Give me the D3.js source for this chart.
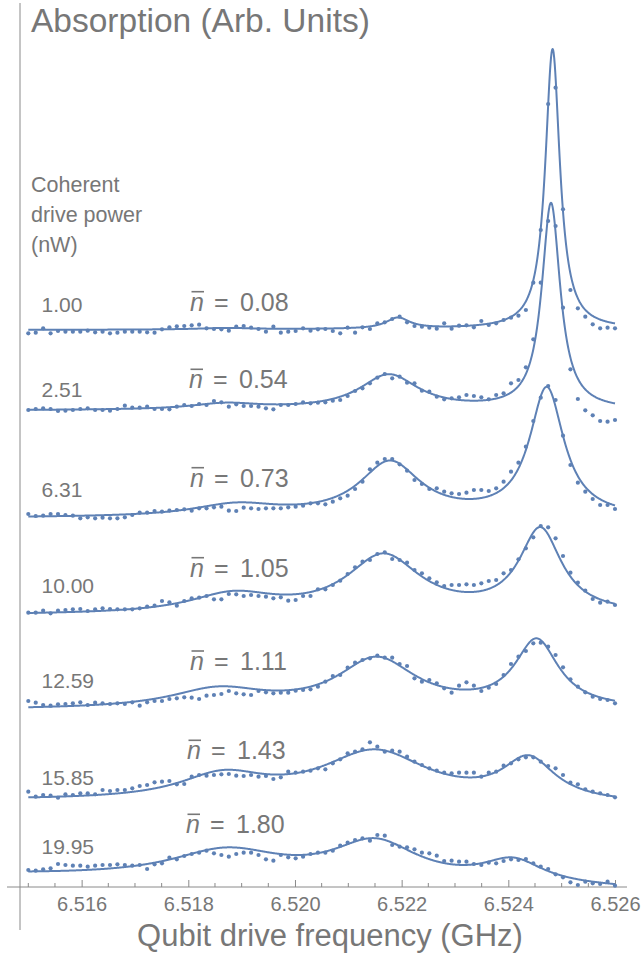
<!DOCTYPE html>
<html>
<head>
<meta charset="utf-8">
<script src="https://cdn.jsdelivr.net/npm/d3@7"></script>
<style>
  html, body { margin: 0; padding: 0; background: #ffffff; }
  svg { display: block; font-family: "Liberation Sans", Arial, sans-serif; }
</style>
</head>
<body>
<svg id="chart" width="642" height="955"></svg>
<script>
// Drive power of each spectrum (nW) and the fitted mean photon number
const powerLabels = ["1.00", "2.51", "6.31", "10.00", "12.59", "15.85", "19.95"];
const nbarLabels = ["0.08", "0.54", "0.73", "1.05", "1.11", "1.43", "1.80"];

// Frequency sweep (GHz): 80 points
const freqStart = 6.515, freqStop = 6.526, freqCount = 80;

// Tick values (GHz)
const majorTicks = [6.516, 6.518, 6.520, 6.522, 6.524, 6.526];
const minorTicks = [6.515, 6.5155, 6.5165, 6.517, 6.5175, 6.5185, 6.519, 6.5195, 6.5205, 6.521, 6.5215,
                    6.5225, 6.523, 6.5235, 6.5245, 6.525, 6.5255];

// Measured absorption (arb. units, stacked), one row per drive power
const absorption1 = [
  55.37,55.43,55.87,55.37,55.6,55.53,55.53,55.53,55.63,55.47,55.53,55.37,55.43,55.53,55.53,55.53,55.47,55.43,55.77,55.97,
  56.07,56.1,56.17,56.23,55.87,55.8,55.77,55.63,56.03,56.1,55.93,55.8,55.53,56.03,55.43,55.53,55.6,55.87,55.63,55.77,
  55.8,55.6,55.37,55.93,55.43,55.97,55.8,56.37,56.47,56.8,57.03,56.47,56.1,56.03,55.93,55.83,56.37,55.83,56.13,56.17,
  55.97,56.6,56.2,56.37,56.7,56.93,57.13,57.7,60.43,65.7,78.3,79.93,67.77,59.7,57.87,57.03,56.27,55.87,55.93,55.87];
const absorption2 = [
  47.7,47.8,47.87,47.8,47.6,47.63,47.7,47.8,47.87,47.7,47.7,47.63,47.8,48.13,47.93,47.93,48.03,47.8,47.8,47.77,
  48.03,48.2,48.1,48.3,48.2,48.6,48.47,48.03,48.27,48.1,48.1,48.03,47.87,47.77,48.2,48.2,48.3,48.47,48.37,48.43,
  48.47,48.63,48.7,49.1,49.6,49.87,50.37,50.93,51.3,50.87,51.03,50.43,50.37,49.63,49.53,49.03,48.77,48.87,48.97,49.2,
  49.1,48.97,48.77,49.2,49.37,50.37,50.7,51.97,54.77,60.43,66.6,66.1,57.93,51.77,48.8,47.67,47.17,46.6,46.53,46.7];
const absorption3 = [
  37.3,37.1,37.13,37.3,37.3,37.2,37.13,36.87,36.97,36.87,36.93,36.87,36.87,36.97,37.2,37.43,37.43,37.6,37.53,37.63,
  37.7,37.77,37.63,37.87,37.87,37.97,38.03,37.63,37.6,37.93,37.87,37.8,37.87,37.87,37.87,37.97,38.03,38.13,38.37,38.37,
  38.27,38.53,38.87,39.13,39.8,40.53,41.77,42.43,42.8,42.8,42.27,41.63,40.7,40.3,39.8,39.87,39.53,39.37,39.3,39.43,
  39.7,39.7,39.6,39.87,40.53,41.53,42.43,44.03,46.6,48.93,50.1,48.7,45.13,42.2,40.43,39.53,38.8,38.2,38.2,37.8];
const absorption4 = [
  27.43,27.43,27.63,27.37,27.63,27.7,27.77,27.8,27.6,27.77,27.87,27.8,27.77,27.77,27.77,27.87,28.03,28.13,28.6,28.47,
  28.13,28.6,28.87,28.93,29.1,28.77,28.77,29.3,29.27,29.1,29.2,29.1,29.03,28.87,28.97,28.63,28.7,29.1,29.1,29.77,
  29.77,30.2,30.63,31.3,31.97,32.53,32.7,33.3,33.47,32.8,32.7,32.43,31.7,31.37,30.87,30.47,30.1,30.2,30.2,30.27,
  30.2,30.37,30.6,30.7,31.37,31.7,32.77,33.87,34.97,36.1,35.97,34.87,33.1,31.43,30.43,29.63,28.8,28.43,28.53,28.2];
const absorption5 = [
  18.6,18.43,18.2,18.13,18.27,18.3,18.37,18.47,18.2,18.43,18.37,18.3,18.37,18.3,18.47,18.13,18.47,18.6,18.6,18.8,
  18.87,18.97,18.93,18.8,19.13,19.2,19.3,19.6,19.37,19.27,19.2,19.6,19.47,19.37,19.43,19.43,19.63,19.7,19.77,20.03,
  20.53,21.1,21.2,21.93,22.43,22.7,22.87,23.13,22.93,22.93,22.3,22.1,20.87,20.53,20.7,20.37,19.87,19.43,20.13,20.47,
  20.13,19.6,19.93,20.3,21.2,22.3,23.03,23.6,24.37,24.43,24.03,23.2,21.97,20.77,20.03,19.47,19.03,18.8,18.7,18.37];
const absorption6 = [
  9.53,9.03,9.2,9.13,8.93,9.27,9.2,9.37,9.37,9.27,9.7,9.6,9.7,9.7,9.87,10.1,10.2,10.47,10.53,10.6,
  10.27,10.3,11.03,11.2,11.13,11.2,11.27,11.3,11.13,11.1,11.2,11.03,11.1,10.8,10.97,11.53,11.43,11.53,11.63,11.87,
  11.77,12.37,12.77,13.37,13.53,13.77,14.47,14.03,13.53,13.63,13.53,13.03,12.53,12.2,11.87,11.63,11.43,11.37,11.43,11.43,
  11.43,11.03,11.43,11.53,12.13,12.37,12.77,12.97,12.97,12.53,12.1,11.87,11.2,10.43,10.27,9.77,9.53,9.37,9.2,8.97];
const absorption7 = [
  1.7,1.63,1.77,1.87,2.3,2.2,2.13,2.13,2.03,2.13,2.2,2.2,2.27,2.2,2.13,2.2,1.8,2.27,2.37,2.93,
  2.77,3.1,3.3,3.43,3.63,3.37,3.2,3.03,3.3,3.43,3.43,3.2,2.77,2.63,3.2,2.97,2.87,3.03,3.3,3.43,
  3.43,3.63,4.13,4.43,4.7,4.87,4.63,5.2,5.13,4.2,4.03,3.97,3.77,3.43,3.37,3.13,2.6,2.63,2.53,2.53,
  2.3,2.2,2.43,2.37,2.6,2.77,2.7,2.8,2.37,2.03,1.8,1.27,0.97,0.47,0.2,0.53,0.37,0.3,0.53,0.13];
const absorption = [absorption1, absorption2, absorption3, absorption4, absorption5, absorption6, absorption7];

// Fit: linear background plus Lorentzian peaks (centres GHz, half widths MHz, heights arb. units)
const backgroundStart = [55.7, 47.65, 36.9, 27.17, 17.7, 8.6, 1.15];
const backgroundEnd = [55.8, 47.65, 36.9, 27.2, 17.7, 8.15, -0.25];
const peakCenters = [
  [6.52483, 6.52193, 6.5187], [6.52480, 6.52176, 6.5187], [6.52472, 6.52178, 6.5189],
  [6.52460, 6.52166, 6.51884], [6.52453, 6.52153, 6.51856], [6.52438, 6.52150, 6.51865],
  [6.52409, 6.52150, 6.51872]];
const peakHalfWidths = [
  [0.166, 0.27, 0.6], [0.21, 0.68, 0.8], [0.39, 0.7, 1.0], [0.48, 0.85, 1.0],
  [0.5, 0.9, 1.1], [0.6, 1.25, 1.0], [0.7, 1.0, 1.3]];
const peakHeights = [
  [28.0, 1.1, 0.15], [20.6, 3.5, 0.6], [12.8, 5.4, 1.2], [8.3, 5.75, 1.9],
  [6.7, 4.93, 1.9], [4.1, 5.0, 2.4], [2.3, 3.9, 2.8]];

const blue = "#5e81b5";
const grey = "#777777";
const axisGrey = "#8a8a8a";

const svg = d3.select("#chart");

const x = d3.scaleLinear().domain([freqStart, freqStop]).range([28.3, 615]);
const y = d3.scaleLinear().domain([0, 88]).range([887, 7]);

const freqs = d3.range(freqCount).map(i => freqStart + i * (freqStop - freqStart) / (freqCount - 1));

function fitValue(k, f) {
  const t = (f - freqStart) / (freqStop - freqStart);
  let v = backgroundStart[k] + (backgroundEnd[k] - backgroundStart[k]) * t;
  peakCenters[k].forEach((c, j) => {
    const d = (f - c) * 1000;
    const g = peakHalfWidths[k][j];
    v += peakHeights[k][j] * g * g / (d * d + g * g);
  });
  return v;
}

const fine = d3.range(0, 1101).map(i => freqStart + i * (freqStop - freqStart) / 1100);
const line = d3.line().x(d => x(d[0])).y(d => y(d[1]));

// Axes
svg.append("line").attr("x1", 20).attr("x2", 20).attr("y1", 3).attr("y2", 930)
  .attr("stroke", axisGrey).attr("stroke-width", 1);

const xAxis = svg.append("g").attr("transform", "translate(0,887)");
xAxis.append("line").attr("x1", 7).attr("x2", 627).attr("y1", 0).attr("y2", 0)
  .attr("stroke", axisGrey).attr("stroke-width", 1);
xAxis.call(d3.axisBottom(x).tickValues(majorTicks).tickSize(-7).tickPadding(10)
  .tickFormat(d3.format(".3f")))
  .call(g => g.select(".domain").remove())
  .call(g => g.selectAll(".tick line").attr("stroke", axisGrey))
  .call(g => g.selectAll(".tick text").attr("fill", grey).attr("font-size", 20)
    .attr("font-family", "Liberation Sans, Arial, sans-serif"));
xAxis.selectAll(".minor").data(minorTicks).enter().append("line")
  .attr("x1", d => x(d)).attr("x2", d => x(d)).attr("y1", 0).attr("y2", -4)
  .attr("stroke", axisGrey);

// Fitted curves and data points
absorption.forEach((vals, k) => {
  svg.append("path")
    .datum(fine.map(f => [f, fitValue(k, f)]))
    .attr("d", line).attr("fill", "none").attr("stroke", blue)
    .attr("stroke-width", 2).attr("stroke-linejoin", "round");
  svg.append("g").selectAll("circle").data(vals).enter().append("circle")
    .attr("cx", (d, i) => x(freqs[i])).attr("cy", d => y(d)).attr("r", 2.1)
    .attr("fill", blue);
});

// Labels
svg.append("text").attr("x", 31).attr("y", 32).attr("font-size", 33.5).attr("fill", grey)
  .text("Absorption (Arb. Units)");
svg.append("text").attr("x", 330).attr("y", 946).attr("font-size", 31).attr("fill", grey)
  .attr("text-anchor", "middle").text("Qubit drive frequency (GHz)");

const legend = svg.append("text").attr("x", 31).attr("font-size", 21.5).attr("fill", grey);
["Coherent", "drive power", "(nW)"].forEach((s, i) =>
  legend.append("tspan").attr("x", 31).attr("y", 191.7 + 30 * i).text(s));

const powerBaselines = [311.7, 397.3, 497.3, 592.7, 687.7, 785, 854];
const nbarBaselines = [310.7, 388.3, 486.7, 576.7, 670, 759.3, 833.3];
const nbarX = [190, 189, 190, 190, 190, 187, 186];

powerLabels.forEach((s, k) => {
  svg.append("text").attr("x", 41.5).attr("y", powerBaselines[k]).attr("font-size", 21)
    .attr("fill", grey).text(s);
  const t = svg.append("text").attr("y", nbarBaselines[k]).attr("font-size", 25).attr("fill", grey);
  t.append("tspan").attr("x", nbarX[k]).attr("font-style", "italic").text("n");
  t.append("tspan").attr("x", nbarX[k] + 24).text("=");
  t.append("tspan").attr("x", nbarX[k] + 50).text(nbarLabels[k]);
  svg.append("line").attr("x1", nbarX[k] + 1.5).attr("x2", nbarX[k] + 14)
    .attr("y1", nbarBaselines[k] - 19).attr("y2", nbarBaselines[k] - 19)
    .attr("stroke", grey).attr("stroke-width", 1.6);
});
</script>
</body>
</html>
